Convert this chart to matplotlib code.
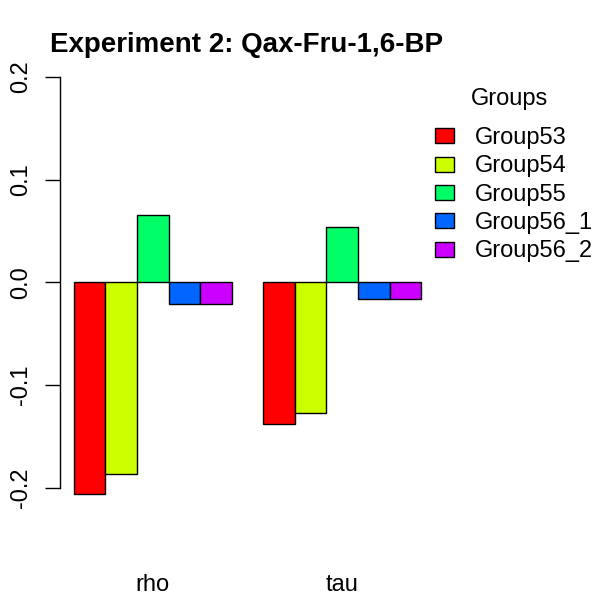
import numpy as np
import matplotlib
matplotlib.use("Agg")
import matplotlib.pyplot as plt

plt.rcParams['font.family'] = ['Liberation Sans', 'DejaVu Sans']

# data
metrics = ['rho', 'tau']
groups = ['Group53', 'Group54', 'Group55', 'Group56_1', 'Group56_2']
values = {
    'rho': [-0.2064, -0.1867, 0.0655, -0.0208, -0.0208],
    'tau': [-0.1383, -0.1273, 0.0538, -0.0166, -0.0166],
}
colors = ['#FF0000', '#CCFF00', '#00FF66', '#0066FF', '#CC00FF']
yticks = [-0.2, -0.1, 0.0, 0.1, 0.2]

fig = plt.figure(figsize=(6.02, 6.0), dpi=100)
ax = fig.add_axes([60/602, 42.5/600, 375/602, 499/600])

# R barplot style: bars of width 1, one bar gap between groups
for m, metric in enumerate(metrics):
    start = 1 + m * (len(groups) + 1)
    for g, grp in enumerate(groups):
        ax.bar(start + g, values[metric][g], width=1, align='edge',
               color=colors[g], edgecolor='black', linewidth=1,
               label=grp if m == 0 else None)

ax.set_xlim(0.56, 12.44)
ax.set_ylim(-0.268, 0.218)

for s in ['top', 'right', 'bottom']:
    ax.spines[s].set_visible(False)
ax.spines['left'].set_bounds(-0.2, 0.2)
ax.spines['left'].set_linewidth(1)
ax.set_yticks(yticks)
ax.set_yticklabels([f'{t:.1f}' for t in yticks], rotation=90, va='center', fontsize=17)
ax.tick_params(axis='y', length=11, width=1, pad=9)

centers = [1 + m * (len(groups) + 1) + len(groups) / 2 for m in range(len(metrics))]
ax.set_xticks(centers)
ax.set_xticklabels(metrics, fontsize=17)
ax.tick_params(axis='x', length=0, pad=12)

fig.text(247/602, 1 - 45/600, 'Experiment 2: Qax-Fru-1,6-BP', ha='center', va='center',
         fontsize=20, fontweight='bold')

# legend title drawn on its own, as R leaves a larger gap under it
fig.text(509/602, 1 - 99/600, 'Groups', ha='center', va='center', fontsize=17)
leg = fig.legend(loc='upper left', bbox_to_anchor=(435/602, 1 - 127/600),
                 frameon=False, fontsize=17,
                 handlelength=0.8, handleheight=0.6, handletextpad=0.9,
                 labelspacing=0.27, borderpad=0, borderaxespad=0)
for p in leg.get_patches():
    p.set_linewidth(1)

fig.savefig('out.png', dpi=100)
